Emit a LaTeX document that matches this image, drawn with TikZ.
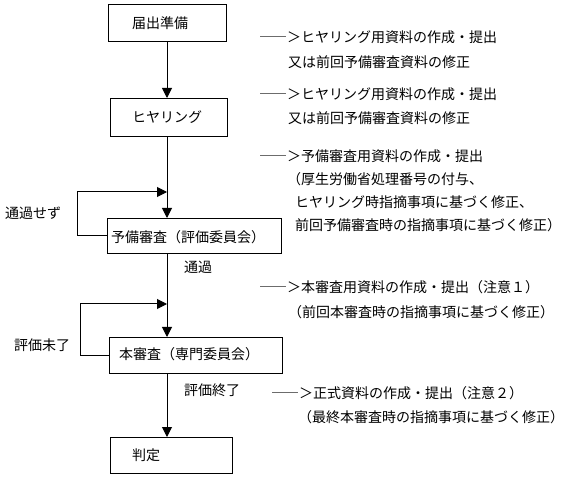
\documentclass[tikz,border=0pt]{standalone}
\usepackage{fontspec}
\newfontfamily\jpfont{Noto Sans CJK JP}
\usetikzlibrary{arrows.meta}
\begin{document}
\begin{tikzpicture}[x=1pt,y=-1pt,
  box/.style={draw,line width=1pt,inner sep=0pt,anchor=north west},
  txt/.style={anchor=west,inner sep=0pt,font=\jpfont\fontsize{14}{14}\selectfont},
  link/.style={line width=1pt,-{Triangle[width=10pt,length=10pt]}}]
\useasboundingbox (0,0) rectangle (584,478);
% boxes
\node[box,minimum width=118pt,minimum height=37pt] (b1) at (108,4) {};
\node[box,minimum width=117pt,minimum height=38pt] (b2) at (110,98) {};
\node[box,minimum width=174pt,minimum height=35pt] (b3) at (107,218) {};
\node[box,minimum width=173pt,minimum height=36pt] (b4) at (109,337) {};
\node[box,minimum width=122pt,minimum height=36pt] (b5) at (110,437) {};
% box texts
\node[txt] (b1t) at (132,23) {届出準備};
\node[txt] (b2t) at (132,117) {ヒヤリング};
\node[txt] (b3t) at (111,237) {予備審査（評価委員会）};
\node[txt] (b4t) at (119,354) {本審査（専門委員会）};
\node[txt] (b5t) at (132,455) {判定};
% coordinates
\coordinate (m) at (167,0);
\coordinate (l1) at (77,0);
\coordinate (l2) at (80,0);
\coordinate (j1) at (167,192);
\coordinate (j2) at (167,304);
% connectors
\draw[link] (b1.south -| m) -- (b2.north -| m);
\draw[link] (b2.south -| m) -- (b3.north -| m);
\draw[link] (b3.south -| m) -- (b4.north -| m);
\draw[link] (b4.south -| m) -- (b5.north -| m);
\draw[link] (b3.west) -- (b3.west -| l1) |- (j1);
\draw[link] (b4.west) -- (b4.west -| l2) |- (j2);
% labels
\node[txt] (n1) at (5,213) {通過せず};
\node[txt] (n2) at (184,267) {通過};
\node[txt] (n3) at (14,345) {評価未了};
\node[txt] (n4) at (184,390) {評価終了};
% right texts
\node[txt] (t1) at (259,37) {――＞ヒヤリング用資料の作成・提出};
\node[txt] (t2) at (288,62) {又は前回予備審査資料の修正};
\node[txt] (t3) at (259,94) {――＞ヒヤリング用資料の作成・提出};
\node[txt] (t4) at (288,118) {又は前回予備審査資料の修正};
\node[txt] (t5) at (259,156) {――＞予備審査用資料の作成・提出};
\node[txt] (t6) at (287,179) {（厚生労働省処理番号の付与、};
\node[txt] (t7) at (295,202) {ヒヤリング時指摘事項に基づく修正、};
\node[txt] (t8) at (295,225) {前回予備審査時の指摘事項に基づく修正）};
\node[txt] (t9) at (259,287) {――＞本審査用資料の作成・提出（注意１）};
\node[txt] (t10) at (288,312) {（前回本審査時の指摘事項に基づく修正）};
\node[txt] (t11) at (271,393) {――＞正式資料の作成・提出（注意２）};
\node[txt] (t12) at (298,417) {（最終本審査時の指摘事項に基づく修正）};
\end{tikzpicture}
\end{document}
